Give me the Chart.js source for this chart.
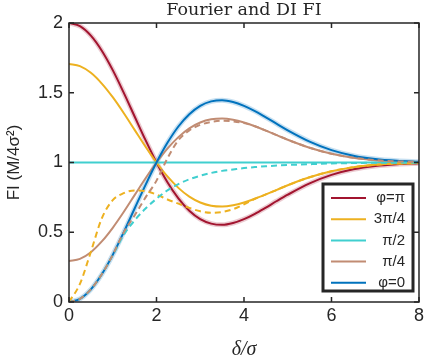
<!DOCTYPE html>
<html>
<head>
<meta charset="utf-8">
<script src="https://cdn.jsdelivr.net/npm/chart.js@4"></script>
<style>
  html, body { margin: 0; padding: 0; background: #fff; }
  #wrap { width: 427px; height: 362px; }
</style>
</head>
<body>
<div id="wrap"><canvas id="grafica" width="427" height="362"></canvas></div>
<script>
// delta/sigma
const xs = [0, 0.25, 0.5, 0.75, 1, 1.25, 1.5, 1.75, 2, 2.25, 2.5, 2.75, 3, 3.25, 3.5, 3.75, 4, 4.25, 4.5, 4.75, 5, 5.5, 6, 6.5, 7, 7.5, 8];

// Fourier FI (solid)
const fiPi   = [2, 1.977, 1.909, 1.801, 1.662, 1.501, 1.330, 1.160, 1.0, 0.859, 0.743, 0.654, 0.594, 0.562, 0.553, 0.566, 0.594, 0.632, 0.677, 0.724, 0.769, 0.850, 0.911, 0.951, 0.975, 0.988, 0.995];
const fi3Pi4 = [1.707, 1.691, 1.643, 1.566, 1.468, 1.355, 1.234, 1.113, 1.0, 0.900, 0.818, 0.755, 0.713, 0.690, 0.684, 0.693, 0.713, 0.740, 0.771, 0.804, 0.837, 0.894, 0.937, 0.966, 0.983, 0.992, 0.996];
const fiPi2  = [1, 1, 1, 1, 1, 1, 1, 1, 1, 1, 1, 1, 1, 1, 1, 1, 1, 1, 1, 1, 1, 1, 1, 1, 1, 1, 1];
const fiPi4  = [0.293, 0.309, 0.357, 0.434, 0.532, 0.645, 0.766, 0.887, 1.0, 1.100, 1.182, 1.245, 1.287, 1.310, 1.316, 1.307, 1.287, 1.260, 1.229, 1.196, 1.163, 1.106, 1.063, 1.034, 1.017, 1.008, 1.004];
const fi0    = [0, 0.023, 0.091, 0.199, 0.338, 0.499, 0.670, 0.840, 1.0, 1.141, 1.258, 1.346, 1.406, 1.438, 1.447, 1.434, 1.406, 1.368, 1.323, 1.277, 1.231, 1.150, 1.089, 1.049, 1.025, 1.012, 1.005];

// DI FI (dashed)
const di3Pi4 = [0, 0.13, 0.36, 0.60, 0.73, 0.78, 0.80, 0.795, 0.77, 0.735, 0.705, 0.675, 0.65, 0.64, 0.645, 0.665, 0.70, 0.74, 0.771, 0.804, 0.837, 0.894, 0.937, 0.966, 0.983, 0.992, 0.996];
const diPi2  = [0, 0.023, 0.09, 0.2, 0.335, 0.48, 0.585, 0.67, 0.74, 0.80, 0.845, 0.88, 0.905, 0.925, 0.94, 0.95, 0.96, 0.967, 0.973, 0.978, 0.982, 0.988, 0.993, 0.996, 0.998, 0.999, 1.0];
const diPi4  = [0, 0.023, 0.091, 0.199, 0.338, 0.499, 0.62, 0.75, 0.87, 1.03, 1.16, 1.23, 1.27, 1.29, 1.30, 1.295, 1.283, 1.260, 1.229, 1.196, 1.163, 1.106, 1.063, 1.034, 1.017, 1.008, 1.004];

const xTicks = [0, 2, 4, 6, 8];
const yTicks = [0, 0.5, 1, 1.5, 2];
const etiquetas = ['\u03C6=\u03C0', '3\u03C0/4', '\u03C0/2', '\u03C0/4', '\u03C6=0'];

const rojo = '#A2142F', naranja = '#EDB120', cian = '#40CFCF', cafe = '#C18C73', azul = '#0072BD';
const ejeColor = '#262626';

const pts = vals => xs.map((x, i) => ({ x: x, y: vals[i] }));

const linea = (vals, color, dashed) => ({
  data: pts(vals),
  borderColor: color,
  borderWidth: 2,
  borderDash: dashed ? [6, 4] : [],
  pointRadius: 0,
  fill: false,
  cubicInterpolationMode: 'monotone'
});

const halo = (vals, color) => ({
  data: pts(vals),
  borderColor: color,
  borderWidth: 5,
  pointRadius: 0,
  fill: false,
  cubicInterpolationMode: 'monotone'
});

// first dataset is drawn on top
const datasets = [
  linea(diPi4, cafe, true),
  linea(diPi2, cian, true),
  linea(di3Pi4, naranja, true),
  linea(fi0, azul, false),
  linea(fiPi4, cafe, false),
  linea(fiPi2, cian, false),
  linea(fi3Pi4, naranja, false),
  linea(fiPi, rojo, false),
  halo(fi0, 'rgba(0,114,189,0.22)'),
  halo(fiPi, 'rgba(162,20,47,0.22)')
];

const marco = {
  id: 'marco',
  afterDraw(chart) {
    const ctx = chart.ctx;
    const a = chart.chartArea;
    const sx = chart.scales.x, sy = chart.scales.y;
    ctx.save();
    ctx.strokeStyle = ejeColor;
    ctx.lineWidth = 1.5;
    ctx.strokeRect(a.left, a.top, a.right - a.left, a.bottom - a.top);
    ctx.beginPath();
    xTicks.forEach(t => {
      const px = sx.getPixelForValue(t);
      ctx.moveTo(px, a.bottom); ctx.lineTo(px, a.bottom - 5);
      ctx.moveTo(px, a.top); ctx.lineTo(px, a.top + 5);
    });
    yTicks.forEach(t => {
      const py = sy.getPixelForValue(t);
      ctx.moveTo(a.left, py); ctx.lineTo(a.left + 5, py);
      ctx.moveTo(a.right, py); ctx.lineTo(a.right - 5, py);
    });
    ctx.stroke();

    // titles
    ctx.fillStyle = ejeColor;
    ctx.textAlign = 'center';
    ctx.textBaseline = 'middle';
    ctx.font = '17.5px "DejaVu Serif"';
    ctx.fillText('Fourier and DI FI', (a.left + a.right) / 2, 10);
    ctx.font = 'italic 20px "Liberation Serif"';
    ctx.fillText('\u03B4/\u03C3', (a.left + a.right) / 2, 350);
    ctx.save();
    ctx.translate(14, (a.top + a.bottom) / 2);
    ctx.rotate(-Math.PI / 2);
    ctx.font = '17px "Liberation Sans"';
    ctx.fillText('FI (M/4\u03C3\u00B2)', 0, 0);
    ctx.restore();

    // legend
    const lx = 323, ly = 184, lw = 90, lh = 107;
    ctx.fillStyle = '#fff';
    ctx.fillRect(lx, ly, lw, lh);
    ctx.lineWidth = 3;
    ctx.strokeStyle = ejeColor;
    ctx.strokeRect(lx, ly, lw, lh);
    const colores = [rojo, naranja, cian, cafe, azul];
    etiquetas.forEach((txt, i) => {
      const y = 198 + i * 21.2;
      ctx.strokeStyle = colores[i];
      ctx.lineWidth = 2;
      ctx.beginPath();
      ctx.moveTo(331, y); ctx.lineTo(366, y);
      ctx.stroke();
      ctx.fillStyle = ejeColor;
      ctx.textAlign = 'right';
      ctx.font = '15px "Liberation Sans"';
      ctx.fillText(txt, 405, y);
    });
    ctx.restore();
  }
};

new Chart(document.getElementById('grafica'), {
  type: 'line',
  data: { datasets: datasets },
  options: {
    responsive: false,
    animation: false,
    layout: { padding: { top: 23, right: 5, left: 0, bottom: 0 } },
    plugins: { legend: { display: false }, tooltip: { enabled: false } },
    scales: {
      x: {
        type: 'linear',
        min: 0, max: 8,
        afterFit: s => { s.height = 60; },
        afterBuildTicks: s => { s.ticks = xTicks.map(v => ({ value: v })); },
        grid: { display: false, drawTicks: false },
        border: { display: false },
        ticks: { padding: 3, color: ejeColor, font: { family: 'Liberation Sans', size: 18 }, callback: v => String(v) }
      },
      y: {
        min: 0, max: 2,
        afterFit: s => { s.width = 69; },
        afterBuildTicks: s => { s.ticks = yTicks.map(v => ({ value: v })); },
        grid: { display: false, drawTicks: false },
        border: { display: false },
        ticks: { padding: 6, color: ejeColor, font: { family: 'Liberation Sans', size: 18 }, callback: v => String(v) }
      }
    }
  },
  plugins: [marco]
});
</script>
</body>
</html>
